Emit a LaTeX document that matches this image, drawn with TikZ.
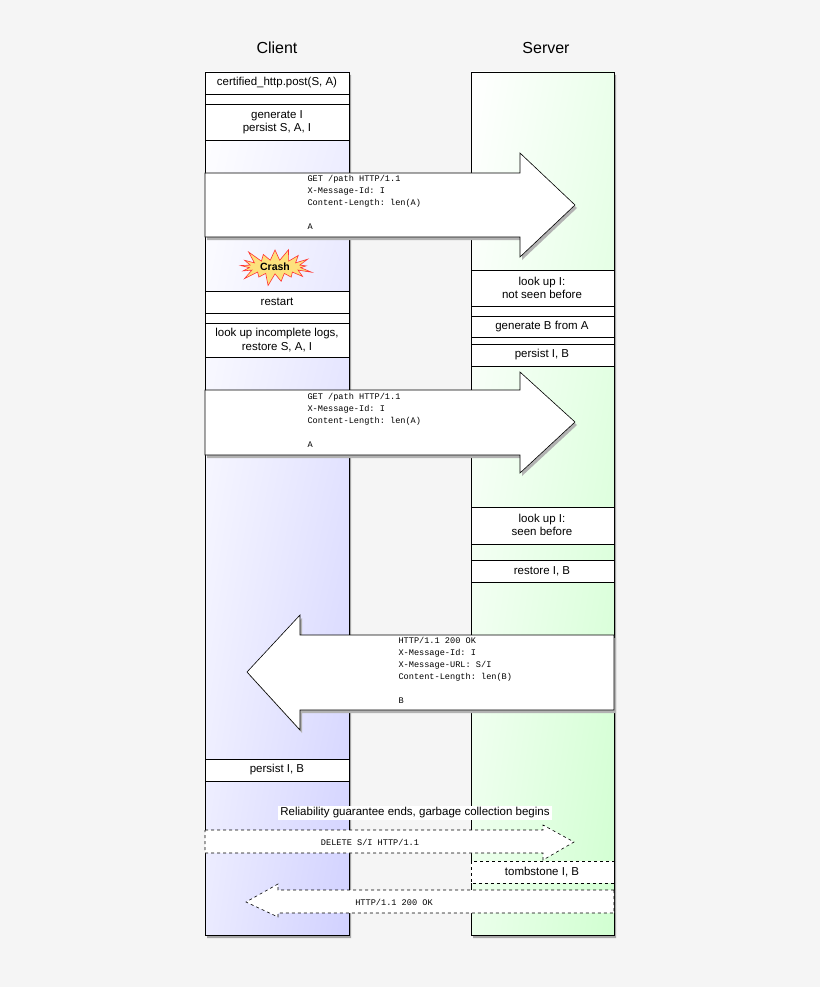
\documentclass[tikz,border=0pt]{standalone}
\usepackage{fontspec}
\setmainfont{Liberation Sans}
\setmonofont{Liberation Mono}
\usetikzlibrary{shapes.symbols,shadows,shadings}
\begin{document}
\begin{tikzpicture}[x=1pt,y=-1pt,
  box/.style={draw=black,line width=0.6pt,fill=white},
  btxt/.style={font=\fontsize{11.5}{13.5}\selectfont,align=center},
  mono/.style={font=\ttfamily\fontsize{8.6}{12}\selectfont,align=left,anchor=north west},
  arr/.style={draw=black,line width=0.6pt,fill=white},
  darr/.style={arr,dashed}]
\useasboundingbox (0,0) rectangle (820,987);
\fill[gray!8] (0,0) rectangle (820,987);
\node[font=\fontsize{16}{18}\selectfont] (client) at (277,48) {Client};
\node[font=\fontsize{16}{18}\selectfont] (server) at (546,48) {Server};
\fill[black!35] (207,75) rectangle (351,938) (473,75) rectangle (616,938);
\shade[upper left=white,upper right=blue!6,lower left=blue!8,lower right=blue!18] (205,72) rectangle (349,935);
\shade[upper left=white,upper right=green!8,lower left=green!8,lower right=green!18] (471,72) rectangle (614,935);
\draw[line width=0.8pt] (205,72) rectangle (349,935) (471,72) rectangle (614,935);
% client boxes
\draw[box] (205,72) rectangle (349,94);
\node[btxt] (c1) at (277,83) {certified\_http.post(S, A)};
\draw[box] (205,94) rectangle (349,104);
\draw[box] (205,104) rectangle (349,140);
\node[btxt] (c2) at (277,122) {generate I\\persist S, A, I};
\node[starburst,draw=red!80,fill=yellow!60!orange!50,line width=0.6pt,minimum width=80pt,minimum height=34pt,inner sep=1pt,font=\bfseries\fontsize{10.5}{12}\selectfont] (crash) at (275,267) {Crash};
\draw[box] (205,291) rectangle (349,313);
\node[btxt] (c3) at (277,302) {restart};
\draw[box] (205,313) rectangle (349,323);
\draw[box] (205,323) rectangle (349,357);
\node[btxt] (c4) at (277,340) {look up incomplete logs,\\restore S, A, I};
\draw[box] (205,759) rectangle (349,781);
\node[btxt] (c5) at (277,770) {persist I, B};
% server boxes
\draw[box] (471,270) rectangle (614,306);
\node[btxt] (s1) at (542,288) {look up I:\\not seen before};
\draw[box] (471,306) rectangle (614,316);
\draw[box] (471,316) rectangle (614,337);
\node[btxt] (s2) at (542,327) {generate B from A};
\draw[box] (471,337) rectangle (614,344);
\draw[box] (471,344) rectangle (614,366);
\node[btxt] (s3) at (542,355) {persist I, B};
\draw[box] (471,507) rectangle (614,544);
\node[btxt] (s4) at (542,525) {look up I:\\seen before};
\draw[box] (471,560) rectangle (614,582);
\node[btxt] (s5) at (542,571) {restore I, B};
% arrow 1
\fill[black!30] (207,176) -- (522,176) -- (522,156) -- (577,208) -- (522,260) -- (522,240) -- (207,240) -- cycle;
\draw[arr] (205,173) -- (520,173) -- (520,153) -- (575,205) -- (520,257) -- (520,237) -- (205,237) -- cycle;
\node[mono] (m1) at (304,172) {GET /path HTTP/1.1\\X-Message-Id: I\\Content-Length: len(A)\\[0pt]\mbox{}\\A};
% arrow 2
\fill[black!30] (207,393) -- (522,393) -- (522,375) -- (577,425) -- (522,476) -- (522,458) -- (207,458) -- cycle;
\draw[arr] (205,390) -- (520,390) -- (520,372) -- (575,422) -- (520,473) -- (520,455) -- (205,455) -- cycle;
\node[mono] (m2) at (304,390) {GET /path HTTP/1.1\\X-Message-Id: I\\Content-Length: len(A)\\[0pt]\mbox{}\\A};
% arrow 3
\fill[black!30] (616,638) -- (302,638) -- (302,618) -- (249,675) -- (302,733) -- (302,713) -- (616,713) -- cycle;
\draw[arr] (614,635) -- (300,635) -- (300,615) -- (247,672) -- (300,730) -- (300,710) -- (614,710) -- cycle;
\node[mono] (m3) at (395,634) {HTTP/1.1 200 OK\\X-Message-Id: I\\X-Message-URL: S/I\\Content-Length: len(B)\\[0pt]\mbox{}\\B};
% gc
\node[fill=white,inner sep=2pt,font=\fontsize{11.5}{13}\selectfont] (gc) at (415,813) {Reliability guarantee ends, garbage collection begins};
\draw[darr] (205,830) -- (543,830) -- (543,825) -- (574,842) -- (543,860) -- (543,853) -- (205,853) -- cycle;
\node[font=\ttfamily\fontsize{8.6}{10}\selectfont] (d1) at (370,842) {DELETE S/I HTTP/1.1};
\draw[box,dashed] (471,861) rectangle (614,883);
\node[btxt] (s6) at (542,872) {tombstone I, B};
\draw[darr] (614,890) -- (278,890) -- (278,884) -- (246,902) -- (278,917) -- (278,913) -- (614,913) -- cycle;
\node[font=\ttfamily\fontsize{8.6}{10}\selectfont] (d2) at (394,902) {HTTP/1.1 200 OK};
\end{tikzpicture}
\end{document}
